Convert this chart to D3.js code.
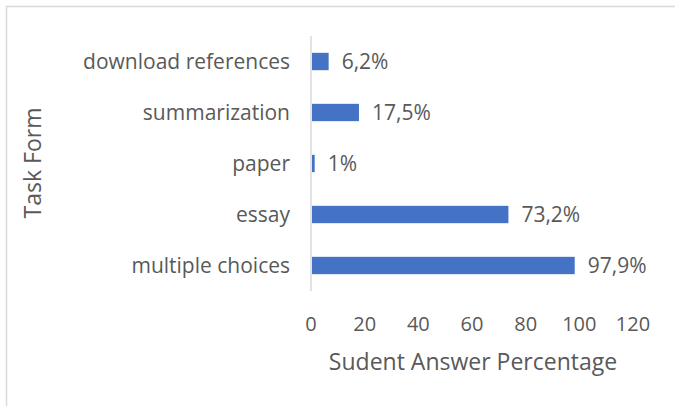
<!DOCTYPE html>
<html><head><meta charset="utf-8">
<script src="https://cdn.jsdelivr.net/npm/d3@7"></script>
<style>body{margin:0;background:#fff}svg{display:block}text{font-family:"Open Sans","Noto Sans",sans-serif;fill:#595959}</style>
</head><body>
<svg id="c" width="675" height="406"></svg>
<script>
const categories = ["download references","summarization","paper","essay","multiple choices"];
const values = [6.2, 17.5, 1, 73.2, 97.9];
const valueLabels = ["6,2%","17,5%","1%","73,2%","97,9%"];
const xTicks = [0,20,40,60,80,100,120];

(function(){
const svg = d3.select("#c");
svg.append("rect").attr("x",6.5).attr("y",6.5).attr("width",700).attr("height",420)
  .attr("fill","#fff").attr("stroke","#d9d9d9").attr("stroke-width",1.5);

const pl = 311, pr = 633, pt = 36, pb = 291;
const x = d3.scaleLinear().domain([0,120]).range([pl,pr]);
const y = d3.scaleBand().domain(categories).range([pt,pb]).paddingInner(0.66).paddingOuter(0.33);

svg.selectAll("rect.bar").data(values).enter().append("rect").attr("class","bar")
  .attr("x",x(0)+1).attr("y",(d,i)=>y(categories[i]))
  .attr("width",d=>x(d)-x(0)).attr("height",y.bandwidth()).attr("fill","#4472C4");

svg.append("line").attr("x1",pl).attr("x2",pl).attr("y1",pt).attr("y2",pb)
  .attr("stroke","#d9d9d9").attr("stroke-width",1.5);

svg.selectAll("text.cat").data(categories).enter().append("text").attr("class","cat")
  .attr("x",pl-21).attr("y",d=>y(d)+y.bandwidth()/2).attr("dy","0.35em")
  .attr("text-anchor","end").attr("font-size",21).text(d=>d);

svg.selectAll("text.val").data(values).enter().append("text").attr("class","val")
  .attr("x",d=>x(d)+14).attr("y",(d,i)=>y(categories[i])+y.bandwidth()/2).attr("dy","0.35em")
  .attr("font-size",21).text((d,i)=>valueLabels[i]);

svg.selectAll("text.tick").data(xTicks).enter().append("text").attr("class","tick")
  .attr("x",d=>x(d)).attr("y",324).attr("dy","0.35em").attr("text-anchor","middle")
  .attr("font-size",20).text(d=>d);

svg.append("text").attr("x",473).attr("y",362).attr("dy","0.35em").attr("text-anchor","middle")
  .attr("font-size",23).text("Sudent Answer Percentage");

svg.append("text").attr("transform","translate(33,163) rotate(-90)").attr("dy","0.35em")
  .attr("text-anchor","middle").attr("font-size",23).text("Task Form");
})();
</script>
</body></html>
